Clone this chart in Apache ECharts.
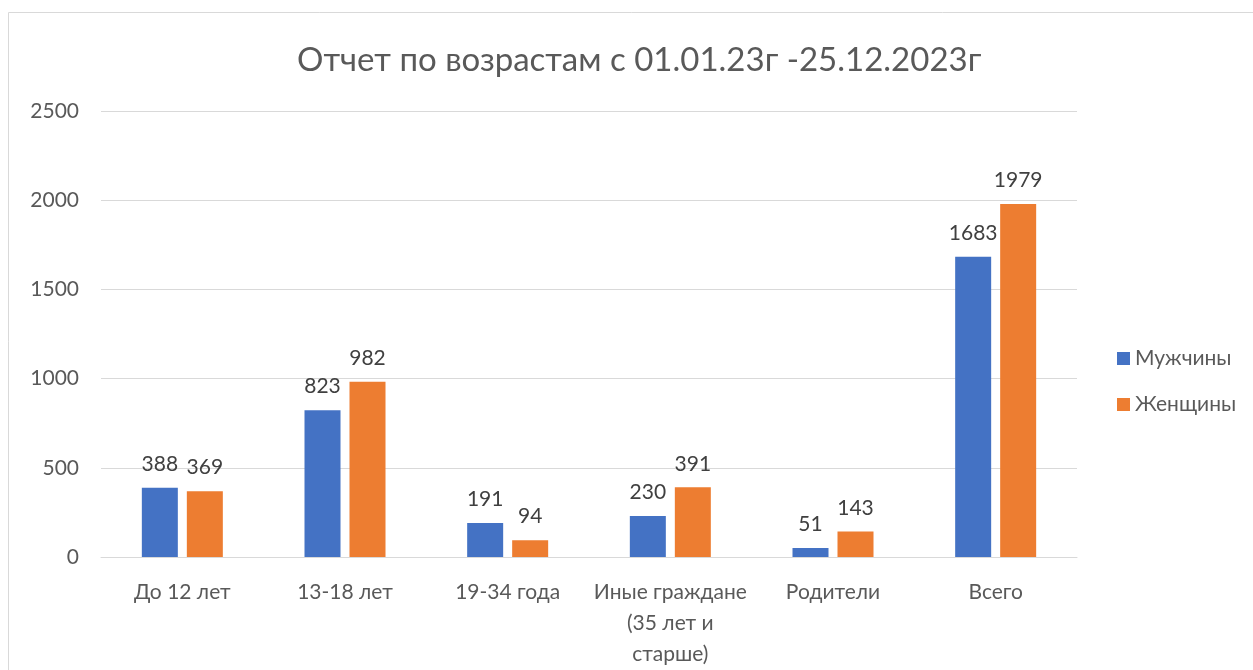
<!DOCTYPE html>
<html>
<head>
<meta charset="utf-8">
<script src="https://cdn.jsdelivr.net/npm/echarts@6/dist/echarts.min.js"></script>
<style>
html,body{margin:0;padding:0;background:#fff;}
#c{width:1253px;height:670px;}
</style>
</head>
<body>
<div id="c"></div>
<script>
const titleText = 'Отчет по возрастам с 01.01.23г -25.12.2023г';
const categories = ['До 12 лет', '13-18 лет', '19-34 года', 'Иные граждане\n(35 лет и\nстарше)', 'Родители', 'Всего'];
const seriesNames = ['Мужчины', 'Женщины'];
const men = [388, 823, 191, 230, 51, 1683];
const women = [369, 982, 94, 391, 143, 1979];
const yTicks = [0, 500, 1000, 1500, 2000, 2500];

const font = 'Lato, "Open Sans", sans-serif';
const chart = echarts.init(document.getElementById('c'));
const labelCfg = {
  show: true, position: 'top', distance: 13,
  color: '#404040', fontSize: 21, fontFamily: font
};
chart.setOption({
  animation: false,
  color: ['#4472C4', '#ED7D31'],
  title: {
    text: titleText, left: 292, top: 39,
    textStyle: {color: '#595959', fontSize: 33, fontWeight: 'normal', fontFamily: font}
  },
  legend: {
    data: seriesNames, orient: 'vertical', left: 1112, top: 343,
    icon: 'rect', itemWidth: 13, itemHeight: 13, itemGap: 25,
    textStyle: {color: '#595959', fontSize: 21, fontFamily: font}
  },
  grid: {left: 101, right: 176, top: 111, bottom: 110, containLabel: false},
  xAxis: {
    type: 'category', data: categories,
    axisLine: {lineStyle: {color: '#d9d9d9', width: 1}},
    axisTick: {show: false},
    axisLabel: {color: '#595959', fontSize: 21, fontFamily: font, margin: 20, lineHeight: 31, interval: 0}
  },
  yAxis: {
    type: 'value', min: yTicks[0], max: yTicks[yTicks.length - 1], interval: 500,
    axisLine: {show: false}, axisTick: {show: false},
    splitLine: {lineStyle: {color: '#d9d9d9', width: 1}},
    axisLabel: {color: '#595959', fontSize: 21, fontFamily: font, margin: 22, formatter: v => String(v)}
  },
  graphic: [{
    type: 'rect', silent: true,
    shape: {x: 8.5, y: 12.5, width: 1400, height: 800},
    style: {fill: 'none', stroke: '#d9d9d9', lineWidth: 1}
  }],
  series: [
    {name: seriesNames[0], type: 'bar', data: men, barWidth: 36, barGap: '25%', label: labelCfg},
    {name: seriesNames[1], type: 'bar', data: women, barWidth: 36, barGap: '25%', label: labelCfg}
  ]
});
</script>
</body>
</html>
